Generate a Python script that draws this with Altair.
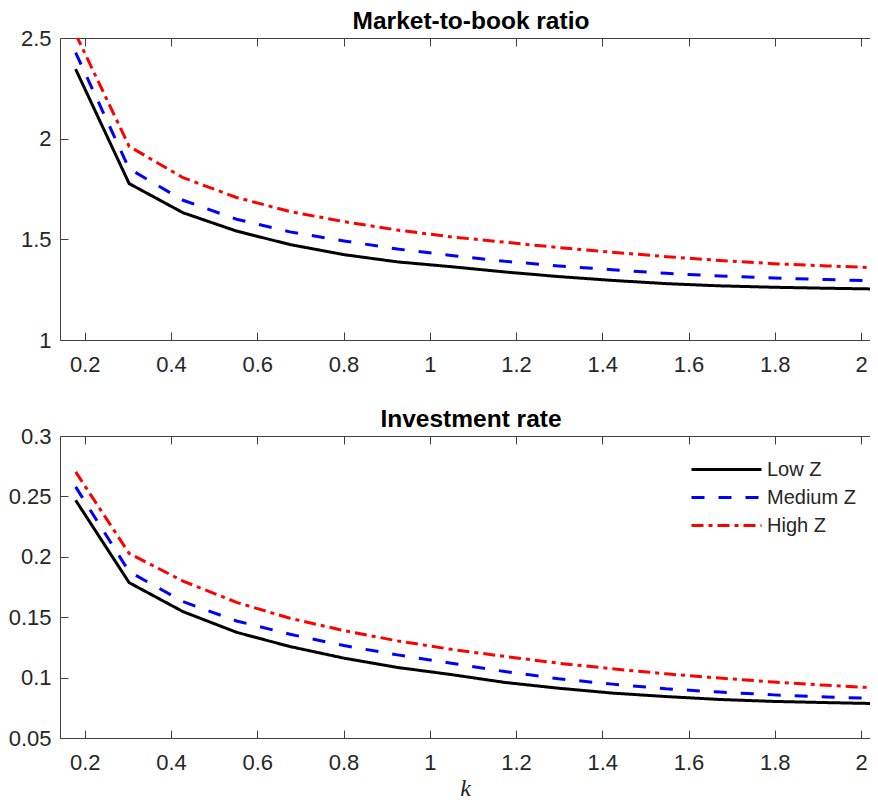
import altair as alt
import pandas as pd

# ---------------- data ----------------
k = [0.179, 0.303, 0.428, 0.552, 0.676, 0.801, 0.925, 1.050,
     1.174, 1.299, 1.423, 1.548, 1.672, 1.797, 1.921, 2.046]
series = ["Low Z", "Medium Z", "High Z"]

mb_low = [2.345, 1.777, 1.632, 1.541, 1.474, 1.424, 1.388, 1.364,
          1.338, 1.315, 1.296, 1.280, 1.269, 1.262, 1.257, 1.253]
mb_med = [2.427, 1.851, 1.694, 1.600, 1.537, 1.492, 1.452, 1.420,
          1.391, 1.368, 1.349, 1.331, 1.318, 1.308, 1.300, 1.293]
mb_high = [2.52, 1.962, 1.806, 1.708, 1.638, 1.588, 1.546, 1.512,
           1.486, 1.459, 1.436, 1.414, 1.395, 1.379, 1.368, 1.358]

inv_low = [0.2468, 0.1786, 0.1546, 0.1375, 0.1257, 0.1161, 0.1084, 0.1025,
           0.0960, 0.0912, 0.0872, 0.0843, 0.0819, 0.0803, 0.0793, 0.0784]
inv_med = [0.2579, 0.1877, 0.1629, 0.1469, 0.1359, 0.1265, 0.1188, 0.1119,
           0.1050, 0.0990, 0.0946, 0.0907, 0.0880, 0.0857, 0.0840, 0.0825]
inv_high = [0.2703, 0.2028, 0.1799, 0.1623, 0.1491, 0.1389, 0.1304, 0.1234,
            0.1175, 0.1119, 0.1073, 0.1031, 0.0996, 0.0963, 0.0936, 0.0913]

x_ticks = [0.2, 0.4, 0.6, 0.8, 1.0, 1.2, 1.4, 1.6, 1.8, 2.0]
mb_ticks = [1, 1.5, 2, 2.5]
inv_ticks = [0.05, 0.1, 0.15, 0.2, 0.25, 0.3]


def frame(low, med, high):
    rows = []
    for name, vals in zip(series, [low, med, high]):
        for kk, v in zip(k, vals):
            rows.append({"k": kk, "v": v, "series": name})
    return pd.DataFrame(rows)


df_mb = frame(mb_low, mb_med, mb_high)
df_inv = frame(inv_low, inv_med, inv_high)

# ---------------- style ----------------
W = 810
H = 302
FONT = "Liberation Sans"
AXC = "#404040"
TXT = "#262626"
TICK = 8

xscale = alt.Scale(domain=[0.1427, 2.0207], nice=False, zero=False)


def panel(df, ydomain, yticks, title, legend, xtitle):
    yscale = alt.Scale(domain=ydomain, nice=False, zero=False)
    color = alt.Color("series:N",
                      scale=alt.Scale(domain=series,
                                      range=["#000000", "#0000ff", "#ff0000"]),
                      legend=legend)
    dash = alt.StrokeDash("series:N",
                          scale=alt.Scale(domain=series,
                                          range=[[1, 0], [13, 14], [12, 5, 4, 5]]),
                          legend=legend)
    base = alt.Chart(df)

    xa_kwargs = dict(title=None)
    if xtitle:
        xa_kwargs = dict(title=xtitle, titleFont="Liberation Serif",
                         titleFontStyle="italic", titleFontWeight="normal",
                         titleFontSize=24, titleColor=TXT, titlePadding=3)

    lines = base.mark_line(strokeWidth=3, clip=True).encode(
        x=alt.X("k:Q", scale=xscale,
                axis=alt.Axis(orient="bottom", values=x_ticks, format="~g",
                              ticks=False, tickSize=0, labelPadding=14,
                              labelFont=FONT, labelFontSize=22, labelColor=TXT,
                              domain=True, domainColor=AXC, domainWidth=1,
                              grid=False, labelFlush=False, **xa_kwargs)),
        y=alt.Y("v:Q", scale=yscale,
                axis=alt.Axis(orient="left", values=yticks, format="~g",
                              ticks=False, tickSize=0, labelPadding=9,
                              labelFont=FONT, labelFontSize=22, labelColor=TXT,
                              domain=True, domainColor=AXC, domainWidth=1,
                              grid=False, title=None, labelFlush=False)),
        color=color,
        strokeDash=dash,
    )

    # top border with inward ticks + inward ticks on the left edge
    l2 = base.mark_line(strokeOpacity=0, clip=True).encode(
        x=alt.X("k:Q", scale=xscale,
                axis=alt.Axis(orient="bottom", offset=-H, values=x_ticks,
                              labels=False, ticks=True, tickSize=TICK,
                              tickColor=AXC, tickWidth=1, domain=True,
                              domainColor=AXC, domainWidth=1, grid=False,
                              title=None)),
        y=alt.Y("v:Q", scale=yscale,
                axis=alt.Axis(orient="right", offset=-W, values=yticks,
                              labels=False, ticks=True, tickSize=TICK,
                              tickColor=AXC, tickWidth=1, domain=False,
                              grid=False, title=None)),
    )
    # inward ticks on the bottom edge
    l3 = base.mark_line(strokeOpacity=0, clip=True).encode(
        x=alt.X("k:Q", scale=xscale,
                axis=alt.Axis(orient="top", offset=-H, values=x_ticks,
                              labels=False, ticks=True, tickSize=TICK,
                              tickColor=AXC, tickWidth=1, domain=False,
                              grid=False, title=None)),
        y=alt.Y("v:Q", scale=yscale, axis=None),
    )
    return alt.layer(lines, l2, l3).resolve_axis(
        x="independent", y="independent"
    ).properties(
        width=W, height=H,
        title=alt.TitleParams(title, font=FONT, fontSize=24.5, fontWeight="bold",
                              color="#000000", anchor="middle", frame="group",
                              baseline="top", offset=-7, dx=6),
    )


legend = alt.Legend(orient="none", legendX=655, legendY=22, title=None,
                    symbolType="M-3.5,0H3.5", symbolSize=400,
                    symbolStrokeWidth=3, symbolFillColor="transparent",
                    labelFont=FONT, labelFontSize=20, labelColor=TXT,
                    labelOffset=29, rowPadding=6, padding=0)

top = panel(df_mb, [1, 2.5], mb_ticks, "Market-to-book ratio", None, None)
bottom = panel(df_inv, [0.05, 0.3], inv_ticks, "Investment rate", legend, "k")

chart = alt.vconcat(top, bottom, spacing=31).resolve_scale(
    color="independent", strokeDash="independent"
).properties(padding=0).configure_view(stroke=None)

chart.save("out.html", embed_options={"renderer": "svg", "actions": False})
